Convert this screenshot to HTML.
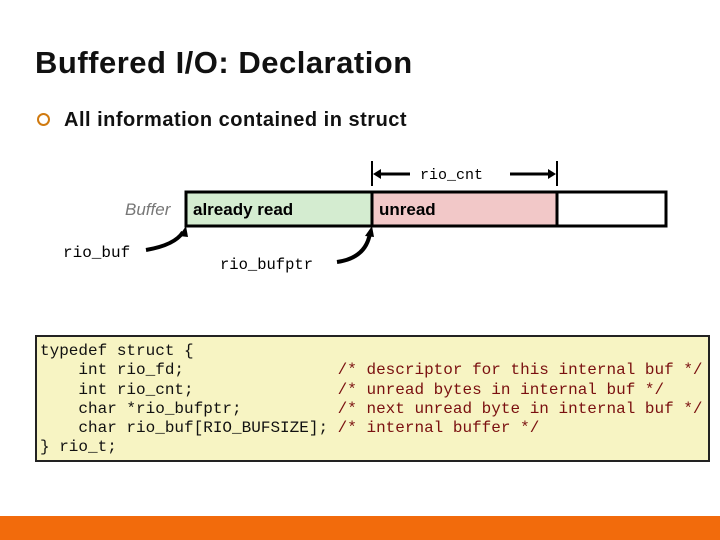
<!DOCTYPE html>
<html><head><style>
body{margin:0;width:720px;height:540px;background:#fff;position:relative;overflow:hidden;font-family:"Liberation Sans",sans-serif}
.t{position:absolute;left:35px;top:45px;font-size:31px;font-weight:bold;color:#111;letter-spacing:0.5px;white-space:nowrap}
.b{position:absolute;left:64px;top:109px;font-size:20px;font-weight:bold;color:#111;letter-spacing:0.5px;white-space:nowrap}
pre{position:absolute;left:35px;top:335px;margin:0;border:2px solid #222;background:#f7f4c3;font-family:"Liberation Mono",monospace;font-size:16px;line-height:19.3px;padding:5px 0 0 3px;box-sizing:border-box;width:675px;height:127px;color:#111}
pre span{color:#7a1010}
</style></head><body>
<div class="t">Buffered I/O: Declaration</div>
<div style="position:absolute;left:37px;top:113px;width:9px;height:9px;border:2px solid #d07a10;border-radius:50%"></div>
<div class="b">All information contained in struct</div>
<svg width="720" height="540" style="position:absolute;left:0;top:0">
<line x1="372" y1="161" x2="372" y2="186" stroke="#000" stroke-width="2"/>
<line x1="557" y1="161" x2="557" y2="186" stroke="#000" stroke-width="2"/>
<line x1="376" y1="174" x2="410" y2="174" stroke="#000" stroke-width="3"/>
<polygon points="373,174 381,169 381,179" fill="#000"/>
<line x1="510" y1="174" x2="550" y2="174" stroke="#000" stroke-width="3"/>
<polygon points="556,174 548,169 548,179" fill="#000"/>
<text x="420" y="179" font-family="Liberation Mono" font-size="15">rio_cnt</text>
<rect x="186" y="192" width="186" height="34" fill="#d4ecd0"/>
<rect x="372" y="192" width="185" height="34" fill="#f2c8c8"/>
<rect x="186" y="192" width="480" height="34" fill="none" stroke="#000" stroke-width="3"/>
<line x1="372" y1="192" x2="372" y2="226" stroke="#000" stroke-width="3"/>
<line x1="557" y1="192" x2="557" y2="226" stroke="#000" stroke-width="3"/>
<text x="193" y="215" font-size="17" font-weight="bold">already read</text>
<text x="379" y="215" font-size="17" font-weight="bold">unread</text>
<text x="125" y="215" font-size="17" font-style="italic" fill="#777">Buffer</text>
<text x="63" y="257" font-family="Liberation Mono" font-size="16">rio_buf</text>
<text x="220" y="269" font-family="Liberation Mono" font-size="15.5">rio_bufptr</text>
<path d="M146,250 Q175,245 183,232" fill="none" stroke="#000" stroke-width="4"/>
<polygon points="186,226 179,236 188,237" fill="#000"/>
<path d="M337,262 Q366,258 370,233" fill="none" stroke="#000" stroke-width="4"/>
<polygon points="372,226 365,236 374,237" fill="#000"/>
<rect x="0" y="516" width="720" height="24" fill="#f26b0c"/>
</svg>
<pre>typedef struct {
    int rio_fd;                <span>/* descriptor for this internal buf */</span>
    int rio_cnt;               <span>/* unread bytes in internal buf */</span>
    char *rio_bufptr;          <span>/* next unread byte in internal buf */</span>
    char rio_buf[RIO_BUFSIZE]; <span>/* internal buffer */</span>
} rio_t;</pre>
</body></html>
